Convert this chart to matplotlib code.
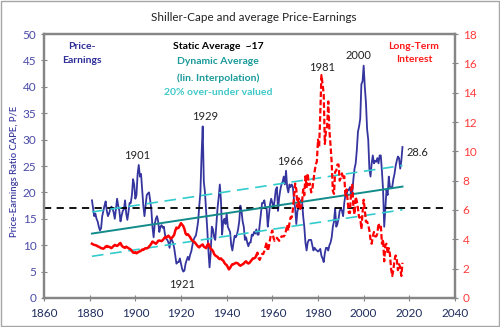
import numpy as np
import matplotlib
matplotlib.use("Agg")
import matplotlib.pyplot as plt
from matplotlib.patches import Rectangle

plt.rcParams['font.family'] = ['Lato', 'DejaVu Sans']

# Shiller CAPE, half-year steps 1881.0 ... 2017.0
cape = [
    18.5, 17.0, 15.5, 16.0, 15.0, 14.5, 13.5, 12.8, 13.2, 15.5,
    16.5, 17.5, 18.3, 16.5, 15.5, 16.0, 16.8, 17.3, 17.0, 16.2,
    15.0, 16.8, 18.8, 17.5, 16.5, 14.5, 15.6, 16.5, 16.8, 18.5,
    16.0, 14.8, 16.3, 18.0, 18.0, 19.5, 22.5, 21.5, 18.8, 19.5,
    23.5, 25.2, 23.0, 23.5, 20.5, 17.5, 15.5, 17.5, 19.5, 19.8,
    20.0, 18.5, 16.8, 13.5, 11.5, 14.0, 15.0, 15.5, 14.5, 12.5,
    13.5, 13.8, 13.3, 13.5, 12.0, 11.2, 11.0, 10.5, 9.5, 11.2,
    11.0, 10.5, 9.5, 8.0, 6.5, 6.8, 6.8, 7.5, 6.5, 5.5,
    5.0, 5.2, 6.5, 7.2, 7.8, 7.2, 8.2, 8.8, 10.0, 11.0,
    11.5, 11.8, 13.0, 14.5, 17.5, 20.0, 27.0, 32.5, 22.0, 20.0,
    16.5, 13.0, 9.0, 5.8, 8.5, 13.5, 13.0, 11.5, 11.0, 14.0,
    17.0, 19.0, 21.5, 18.5, 12.0, 14.5, 15.0, 14.0, 16.0, 13.5,
    13.0, 12.5, 10.0, 9.0, 10.5, 11.8, 11.5, 12.0, 13.0, 14.5,
    17.5, 16.5, 14.5, 13.5, 11.0, 11.5, 10.5, 9.8, 10.5, 10.5,
    12.0, 11.8, 12.5, 12.2, 13.0, 12.0, 12.0, 14.0, 16.0, 18.0,
    18.0, 18.5, 17.0, 17.0, 13.5, 15.5, 17.8, 18.8, 18.0, 17.0,
    18.5, 20.5, 21.0, 16.5, 19.0, 20.5, 21.5, 22.0, 23.0, 21.5,
    24.1, 21.0, 20.0, 21.5, 21.0, 21.5, 21.0, 18.5, 17.0, 14.0,
    16.5, 17.0, 18.0, 18.5, 18.5, 15.5, 13.5, 10.5, 9.0, 10.5,
    11.0, 11.0, 11.0, 10.0, 9.0, 9.5, 9.2, 9.0, 8.8, 9.0,
    9.3, 8.0, 7.5, 6.8, 8.5, 9.5, 9.5, 9.0, 10.0, 10.5,
    11.5, 13.5, 14.5, 17.0, 13.5, 14.0, 15.0, 16.5, 17.0, 16.5,
    15.5, 18.0, 19.5, 19.5, 20.5, 20.5, 21.0, 19.5, 20.0, 22.5,
    24.5, 25.5, 28.0, 31.5, 32.5, 34.0, 40.5, 41.0, 44.0, 40.0,
    37.0, 32.0, 30.0, 24.5, 23.0, 25.5, 27.0, 25.5, 26.0, 25.8,
    26.5, 25.5, 27.0, 27.0, 24.0, 20.5, 13.5, 17.0, 20.5, 19.5,
    23.0, 21.0, 21.0, 21.0, 22.5, 23.5, 25.0, 26.0, 26.8, 26.5,
    24.5, 26.0, 28.6,
]

# long-term interest rate (%), same half-year steps
rate = [
    3.70, 3.65, 3.62, 3.60, 3.58, 3.52, 3.50, 3.45, 3.40, 3.38,
    3.36, 3.42, 3.50, 3.55, 3.48, 3.50, 3.45, 3.40, 3.48, 3.55,
    3.62, 3.58, 3.55, 3.60, 3.70, 3.75, 3.58, 3.50, 3.45, 3.42,
    3.50, 3.45, 3.40, 3.35, 3.30, 3.20, 3.10, 3.08, 3.12, 3.05,
    3.10, 3.15, 3.18, 3.22, 3.30, 3.28, 3.35, 3.40, 3.38, 3.42,
    3.50, 3.60, 3.70, 3.85, 3.80, 3.75, 3.70, 3.78, 3.90, 3.92,
    3.90, 3.88, 3.95, 4.05, 4.15, 4.10, 4.20, 4.25, 4.15, 4.05,
    4.10, 4.20, 4.30, 4.60, 4.80, 4.75, 4.80, 4.95, 5.10, 5.00,
    4.90, 4.70, 4.40, 4.30, 4.35, 4.25, 4.15, 4.00, 3.90, 3.85,
    3.80, 3.70, 3.60, 3.50, 3.45, 3.55, 3.60, 3.65, 3.50, 3.45,
    3.40, 3.60, 3.70, 3.50, 3.35, 3.30, 3.20, 3.00, 2.90, 2.85,
    2.80, 2.70, 2.65, 2.70, 2.60, 2.55, 2.40, 2.30, 2.25, 2.10,
    1.95, 2.05, 2.20, 2.30, 2.30, 2.35, 2.40, 2.38, 2.35, 2.25,
    2.20, 2.25, 2.30, 2.35, 2.45, 2.50, 2.40, 2.35, 2.40, 2.50,
    2.60, 2.70, 2.70, 2.75, 2.90, 3.10, 2.70, 2.60, 2.80, 3.00,
    3.00, 3.20, 3.50, 3.80, 3.20, 3.50, 4.00, 4.40, 4.60, 4.10,
    3.90, 4.00, 4.10, 4.00, 3.90, 4.00, 4.20, 4.20, 4.20, 4.30,
    4.60, 5.00, 4.60, 5.10, 5.50, 5.50, 6.00, 6.90, 7.80, 7.40,
    6.20, 6.80, 6.00, 6.20, 6.50, 7.40, 7.00, 8.30, 7.50, 8.50,
    7.70, 7.80, 7.20, 7.40, 8.00, 8.60, 9.10, 9.30, 10.80, 10.30,
    12.60, 15.20, 14.60, 13.90, 10.50, 11.40, 11.70, 13.40, 11.40, 10.40,
    9.20, 7.30, 7.10, 8.60, 8.70, 9.10, 9.10, 8.00, 8.20, 8.50,
    8.10, 8.30, 7.00, 7.40, 6.60, 5.80, 5.80, 7.30, 7.80, 6.20,
    5.70, 6.90, 6.60, 6.10, 5.50, 5.50, 4.70, 5.80, 6.70, 6.00,
    5.20, 5.20, 5.00, 4.60, 4.00, 3.70, 4.20, 4.50, 4.20, 4.20,
    4.40, 5.10, 4.80, 5.00, 3.70, 4.00, 2.50, 3.60, 3.70, 3.00,
    3.40, 3.00, 2.00, 1.50, 1.90, 2.60, 2.90, 2.60, 1.90, 2.30,
    2.10, 1.50, 2.40,
]

years = 1881 + 0.5 * np.arange(len(cape))

static_avg = 17
trend_years = [1881, 2017]
trend = [12.2, 21.1]
trend_upper = [16.3, 25.1]
trend_lower = [7.9, 16.7]

peaks = [("1901", 1901.0, 26.9), ("1929", 1930.5, 34.3), ("1921", 1920.3, 2.6),
         ("1966", 1967.7, 25.9), ("1981", 1981.8, 43.7), ("2000", 1997.5, 46.0),
         ("28.6", 2023.4, 27.6)]

fig = plt.figure(figsize=(5, 3.27), dpi=100)
fig.patches.append(Rectangle((0.002, 0.003), 0.995, 0.993, transform=fig.transFigure,
                             fill=False, edgecolor='#a6a6a6', lw=1))
ax = fig.add_axes([0.088, 0.0887, 0.822, 0.8073])
ax2 = ax.twinx()

ax.plot(years, cape, color='#3535a0', lw=1.3)
ax.plot([1860, 2035], [static_avg, static_avg], color='black', lw=1.3, ls=(0, (4, 3)))
ax.plot(trend_years, trend, color='#138b8b', lw=1.4)
ax.plot(trend_years, trend_upper, color='#33cccc', lw=1.2, ls=(0, (7, 4)))
ax.plot(trend_years, trend_lower, color='#33cccc', lw=1.2, ls=(0, (7, 4)))

n_solid = int((1953 - 1881) * 2) + 1
ax2.plot(years[:n_solid], rate[:n_solid], color='red', lw=1.8)
ax2.plot(years[n_solid - 1:], rate[n_solid - 1:], color='red', lw=1.6, ls=(0, (2.5, 1.2)))

ax.set_xlim(1860, 2040)
ax.set_ylim(0, 50)
ax2.set_ylim(0, 18)
ax.set_xticks(range(1860, 2041, 20))
ax.set_yticks(range(0, 51, 5))
ax2.set_yticks(range(0, 19, 2))

for a in (ax, ax2):
    for s in a.spines.values():
        s.set_color('#868686')
        s.set_linewidth(1.6)
ax.tick_params(axis='both', direction='inout', length=5, color='#868686', labelsize=8.5, pad=3)
ax.tick_params(axis='y', labelcolor='#4a4aa8')
ax.tick_params(axis='x', labelcolor='#1f2d5e', pad=5)
ax2.tick_params(axis='y', direction='inout', length=5, color='#868686', labelsize=8.5,
                labelcolor='#ff3b3b', pad=3)

ax.set_ylabel('Price-Earnings Ratio CAPE, P/E', color='#3a3aa0', fontsize=6.8,
              fontweight='semibold')
ax.yaxis.set_label_coords(-0.06, 0.48)

fig.text(0.508, 0.945, 'Shiller-Cape and average Price-Earnings', ha='center', va='center',
         fontsize=8.4, color='#222222')

ax.text(1876.5, 46.3, 'Price-\nEarnings', ha='center', va='center', fontsize=7.5,
        fontweight='bold', color='#2e2e99', linespacing=1.6)
ax.text(2022, 46.4, 'Long-Term\nInterest', ha='center', va='center', fontsize=7.5,
        fontweight='bold', color='#ff1a1a', linespacing=1.6)
ax.text(1936.2, 47.6, 'Static Average  ~17', ha='center', va='center', fontsize=7.5,
        fontweight='bold', color='black')
ax.text(1936.2, 44.7, 'Dynamic Average', ha='center', va='center', fontsize=7.5,
        fontweight='bold', color='#1a9a9a')
ax.text(1936.2, 41.7, '(lin. Interpolation)', ha='center', va='center', fontsize=7.5,
        fontweight='bold', color='#1a9a9a')
ax.text(1936.2, 38.9, '20% over-under valued', ha='center', va='center', fontsize=7.5,
        fontweight='bold', color='#40c8c8')

for label, x, y in peaks:
    ax.text(x, y, label, ha='center', va='center', fontsize=8, color='#222222')

fig.savefig('out.png', dpi=100)
